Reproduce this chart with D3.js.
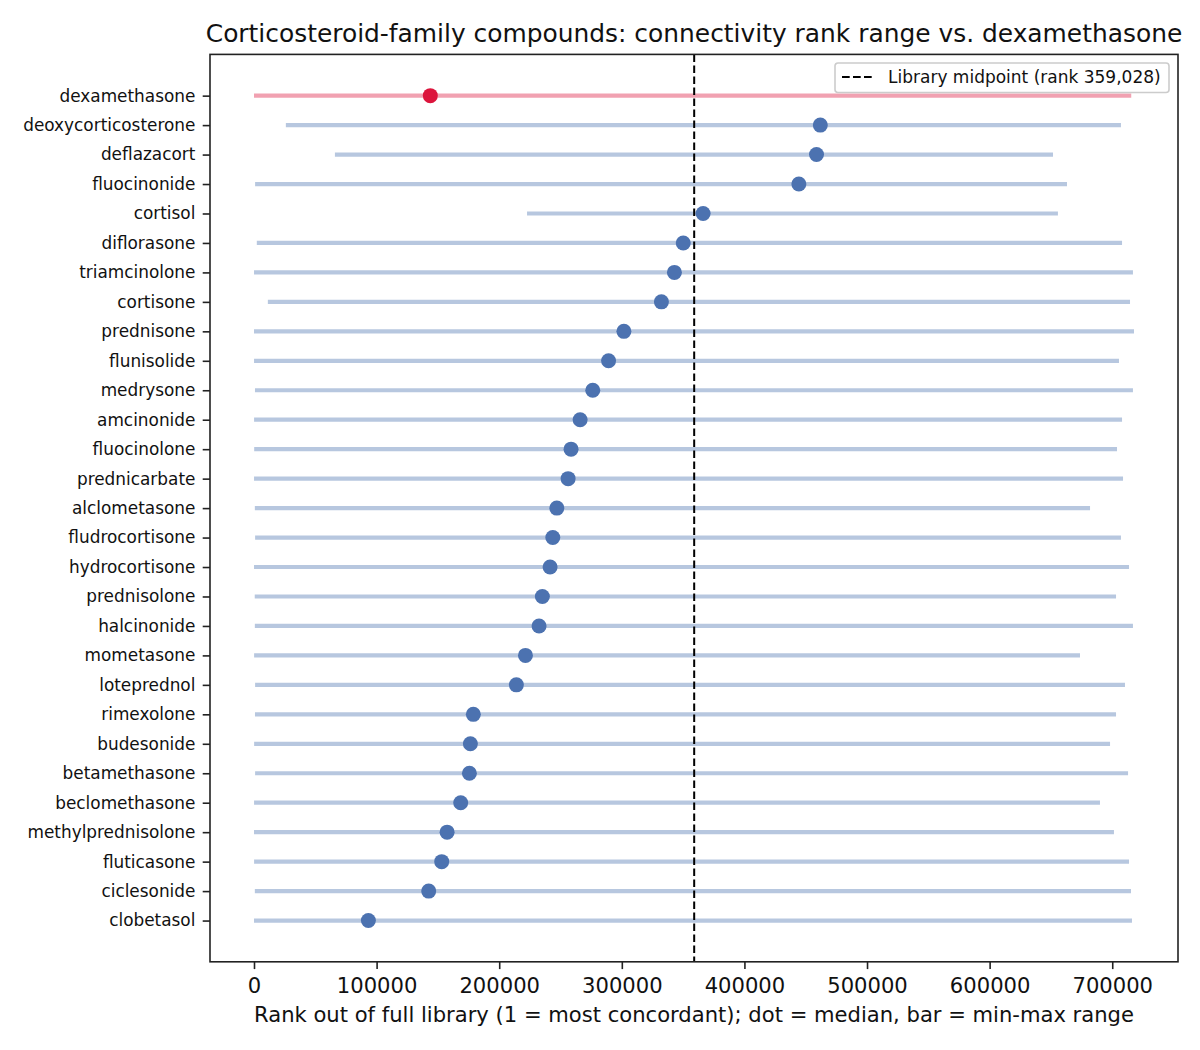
<!DOCTYPE html>
<html>
<head>
<meta charset="utf-8">
<script src="https://cdn.jsdelivr.net/npm/d3@7"></script>
<style>
  body { margin: 0; background: #fff; }
  svg { font-family: "DejaVu Sans", sans-serif; }
</style>
</head>
<body>
<svg width="1200" height="1050"></svg>
<script>
// chart data, top row first
let compounds = ["dexamethasone", "deoxycorticosterone", "deflazacort", "fluocinonide", "cortisol",
  "diflorasone", "triamcinolone", "cortisone", "prednisone", "flunisolide", "medrysone", "amcinonide",
  "fluocinolone", "prednicarbate", "alclometasone", "fludrocortisone", "hydrocortisone", "prednisolone",
  "halcinonide", "mometasone", "loteprednol", "rimexolone", "budesonide", "betamethasone",
  "beclomethasone", "methylprednisolone", "fluticasone", "ciclesonide", "clobetasol"];
let medianRank = [143800, 461900, 458800, 444400, 366300, 350100, 342900, 332300, 301700, 289200,
  276300, 266000, 258600, 256200, 247000, 243700, 241500, 235200, 232500, 221400, 214000, 178900,
  176500, 175700, 168600, 157500, 153100, 142500, 93300];
let minRank = [1, 26000, 66000, 900, 222700, 2300, 12, 11300, 5, 40, 800, 60, 150, 30, 700, 900,
  20, 600, 700, 90, 900, 800, 100, 900, 50, 10, 70, 700, 3];
let maxRank = [715500, 707100, 651700, 663100, 655700, 708000, 716900, 714500, 717750, 705500,
  716900, 708000, 703900, 708800, 681900, 707100, 713700, 703100, 716900, 673700, 710400, 703100,
  698200, 712900, 690000, 701400, 713700, 715300, 716100];
let referenceCompound = "dexamethasone";
let libraryMidpoint = 359028;

let svg = d3.select("svg");
let plot = { left: 210, right: 1178, top: 54.4, bottom: 961.8 };

// matplotlib-like 5% padding around the data
let lo = d3.min(minRank), hi = d3.max(maxRank);
let pad = (hi - lo) * 0.05;
let x = d3.scaleLinear()
  .domain([lo - pad, hi + pad])
  .range([plot.left, plot.right]);
let n = compounds.length;
let y = d3.scaleLinear()
  .domain([-(n - 1) * 0.05, (n - 1) * 1.05])
  .range([plot.top, plot.bottom]);

let rows = compounds.map((c, i) => ({
  name: c, i: i, med: medianRank[i], min: minRank[i], max: maxRank[i],
  ref: c == referenceCompound
}));

let blue = "#4c72b0", red = "#dc143c";

// range bars
svg.append("g")
  .selectAll("line")
  .data(rows)
  .join("line")
    .attr("x1", d => x(d.min))
    .attr("x2", d => x(d.max))
    .attr("y1", d => y(d.i))
    .attr("y2", d => y(d.i))
    .attr("stroke", d => d.ref ? red : blue)
    .attr("stroke-opacity", 0.4)
    .attr("stroke-width", 4.2);

// medians
svg.append("g")
  .selectAll("circle")
  .data(rows)
  .join("circle")
    .attr("cx", d => x(d.med))
    .attr("cy", d => y(d.i))
    .attr("r", 7.5)
    .attr("fill", d => d.ref ? red : blue);

// midpoint line
svg.append("line")
  .attr("x1", x(libraryMidpoint))
  .attr("x2", x(libraryMidpoint))
  .attr("y1", plot.top)
  .attr("y2", plot.bottom)
  .attr("stroke", "black")
  .attr("stroke-width", 2)
  .attr("stroke-dasharray", "7.7,3.3");

// axes
let xAxis = svg.append("g")
  .attr("transform", "translate(0," + plot.bottom + ")")
  .call(d3.axisBottom(x).tickValues(d3.range(0, 700001, 100000)).tickFormat(d3.format("d"))
    .tickSizeOuter(0).tickSize(7.3).tickPadding(8.5));
xAxis.select(".domain").remove();
xAxis.selectAll(".tick line").attr("stroke", "#222").attr("stroke-width", 1.6);
xAxis.selectAll(".tick text").attr("font-size", 21.1).attr("fill", "#111")
  .attr("font-family", "DejaVu Sans");

let yAxis = svg.append("g")
  .attr("transform", "translate(" + plot.left + ",0)")
  .call(d3.axisLeft(y).tickValues(d3.range(n)).tickFormat(i => compounds[i])
    .tickSizeOuter(0).tickSize(7.3).tickPadding(7.3));
yAxis.select(".domain").remove();
yAxis.selectAll(".tick line").attr("stroke", "#222").attr("stroke-width", 1.6);
yAxis.selectAll(".tick text").attr("font-size", 16.9).attr("fill", "#111")
  .attr("font-family", "DejaVu Sans");

// frame
svg.append("rect")
  .attr("x", plot.left)
  .attr("y", plot.top)
  .attr("width", plot.right - plot.left)
  .attr("height", plot.bottom - plot.top)
  .attr("fill", "none")
  .attr("stroke", "#222")
  .attr("stroke-width", 1.6);

// labels
svg.append("text")
  .attr("x", (plot.left + plot.right) / 2)
  .attr("y", 42)
  .attr("text-anchor", "middle")
  .attr("font-size", 24.9)
  .attr("fill", "#111")
  .text("Corticosteroid-family compounds: connectivity rank range vs. dexamethasone");

svg.append("text")
  .attr("x", (plot.left + plot.right) / 2)
  .attr("y", 1021.5)
  .attr("text-anchor", "middle")
  .attr("font-size", 21.1)
  .attr("fill", "#111")
  .text("Rank out of full library (1 = most concordant); dot = median, bar = min-max range");

// legend
let legend = svg.append("g").attr("transform", "translate(835,63)");
legend.append("rect")
  .attr("width", 334)
  .attr("height", 29.5)
  .attr("rx", 3)
  .attr("fill", "white")
  .attr("fill-opacity", 0.8)
  .attr("stroke", "#cccccc")
  .attr("stroke-width", 1.6);
legend.append("line")
  .attr("x1", 7).attr("x2", 37)
  .attr("y1", 14).attr("y2", 14)
  .attr("stroke", "black")
  .attr("stroke-width", 2)
  .attr("stroke-dasharray", "7.7,3.3");
legend.append("text")
  .attr("x", 53)
  .attr("y", 20)
  .attr("font-size", 17)
  .attr("fill", "#111")
  .text("Library midpoint (rank " + d3.format(",")(libraryMidpoint) + ")");
</script>
</body>
</html>
